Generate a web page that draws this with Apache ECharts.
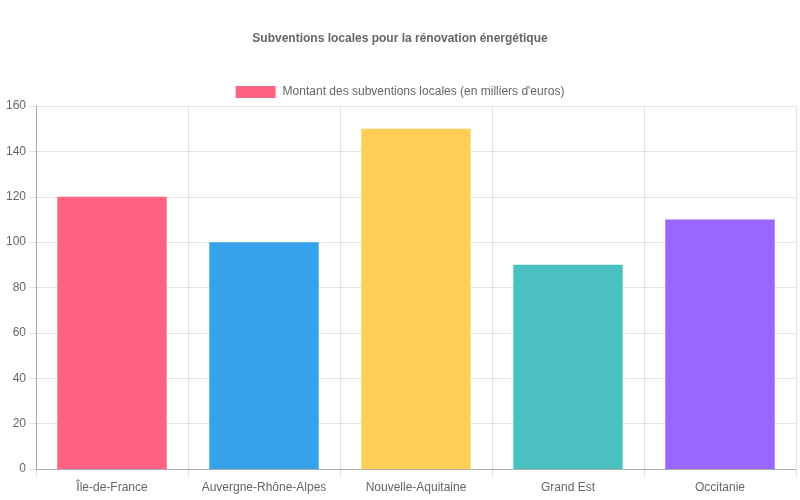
<!DOCTYPE html>
<html>
<head>
<meta charset="utf-8">
<script src="https://cdn.jsdelivr.net/npm/echarts@6/dist/echarts.min.js"></script>
<style>
  html, body { margin: 0; padding: 0; background: #fff; }
  #chart { width: 800px; height: 500px; }
</style>
</head>
<body>
<div id="chart"></div>
<script>
// données du graphique
var regions = ['Île-de-France', 'Auvergne-Rhône-Alpes', 'Nouvelle-Aquitaine', 'Grand Est', 'Occitanie'];
var montants = [120, 100, 150, 90, 110];
var couleurs = ['#FF6384', '#36A2EB', '#FFCE56', '#4BC0C0', '#9966FF'];
var serieNom = "Montant des subventions locales (en milliers d'euros)";
var titre = 'Subventions locales pour la rénovation énergétique';

var police = '"Liberation Sans", Arial, sans-serif';
var gris = '#666';

var chart = echarts.init(document.getElementById('chart'), null, { renderer: 'canvas' });

// chaque barre prend sa couleur
var donnees = montants.map(function (v, i) {
  return { value: v, itemStyle: { color: couleurs[i] } };
});

chart.setOption({
  animation: false,
  title: {
    text: titre,
    left: 'center',
    top: 28,
    textStyle: { fontFamily: police, fontSize: 12, fontWeight: 'bold', color: gris }
  },
  legend: {
    top: 81,
    left: 'center',
    itemWidth: 40,
    itemHeight: 12,
    itemGap: 10,
    icon: 'rect',
    textStyle: { fontFamily: police, fontSize: 12, color: gris, padding: [0, 0, 0, 2] },
    data: [{ name: serieNom, itemStyle: { color: couleurs[0] } }]
  },
  grid: { left: 36, right: 4, top: 106, bottom: 31, containLabel: false },
  xAxis: {
    type: 'category',
    data: regions,
    boundaryGap: true,
    axisLine: { show: true, lineStyle: { color: 'rgba(0,0,0,0.25)' } },
    axisTick: { show: true, alignWithLabel: false, length: 9, lineStyle: { color: 'rgba(0,0,0,0.1)' } },
    splitLine: { show: true, lineStyle: { color: 'rgba(0,0,0,0.1)' } },
    axisLabel: { fontFamily: police, fontSize: 12, color: gris, margin: 13, interval: 0 }
  },
  yAxis: {
    type: 'value',
    min: 0,
    max: 160,
    interval: 20,
    axisLine: { show: true, lineStyle: { color: 'rgba(0,0,0,0.25)' } },
    axisTick: { show: true, length: 7, lineStyle: { color: 'rgba(0,0,0,0.1)' } },
    splitLine: { show: true, lineStyle: { color: 'rgba(0,0,0,0.1)' } },
    axisLabel: { fontFamily: police, fontSize: 12, color: gris, margin: 10 }
  },
  series: [{
    name: serieNom,
    type: 'bar',
    data: donnees,
    barCategoryGap: '28%',
    itemStyle: { color: couleurs[0] }
  }]
});
</script>
</body>
</html>
